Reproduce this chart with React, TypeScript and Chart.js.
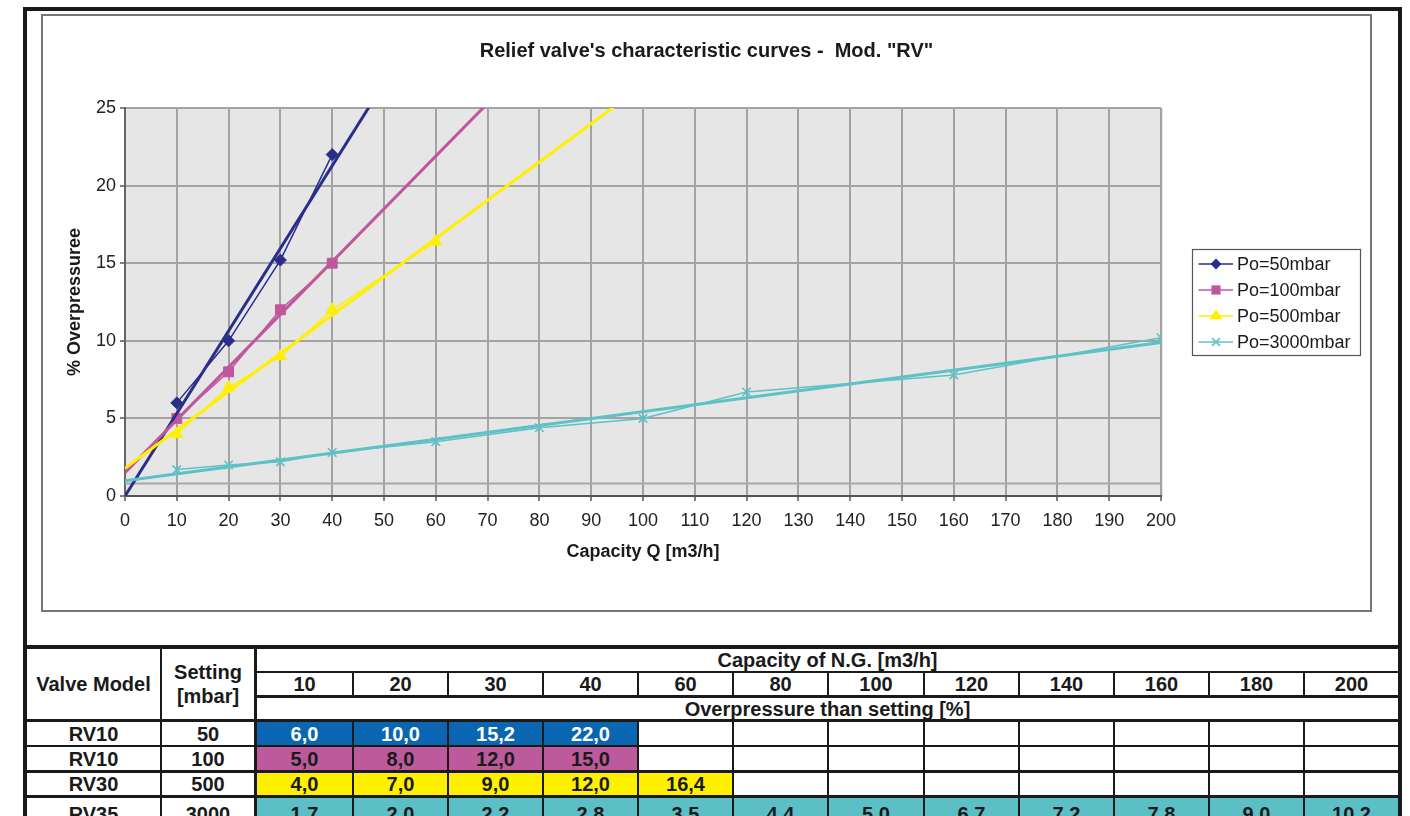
import React, { useEffect, useRef } from 'react';
import { Chart, registerables } from 'chart.js';

Chart.register(...registerables);

const FONT = "'Liberation Sans', Arial, Helvetica, sans-serif";

// ---- chart data ----
const chartTitle = 'Relief valve\'s characteristic curves -  Mod. "RV"';
const xTitle = 'Capacity Q [m3/h]';
const yTitle = '% Overpressuree';
const xMin = 0;
const xMax = 200;
const xStep = 10;
const yMin = 0;
const yMax = 25;
const yStep = 5;

const seriesLabels = ['Po=50mbar', 'Po=100mbar', 'Po=500mbar', 'Po=3000mbar'];
const seriesColors = ['#2b2e88', '#c0569d', '#fff000', '#5cc2c8'];
const seriesMarkers = ['rectRot', 'rect', 'triangle', 'crossRot'];
const seriesRadius = [6, 7, 7, 6];

const q50 = [10, 20, 30, 40];
const op50 = [6.0, 10.0, 15.2, 22.0];
const q100 = [10, 20, 30, 40];
const op100 = [5.0, 8.0, 12.0, 15.0];
const q500 = [10, 20, 30, 40, 60];
const op500 = [4.0, 7.0, 9.0, 12.0, 16.4];
const q3000 = [10, 20, 30, 40, 60, 80, 100, 120, 160, 200];
const op3000 = [1.7, 2.0, 2.2, 2.8, 3.5, 4.4, 5.0, 6.7, 7.8, 10.2];

const refLineX = [0, 200];
const refLineY = [0.8, 0.8];

// ---- table data ----
const tableCapacities = [10, 20, 30, 40, 60, 80, 100, 120, 140, 160, 180, 200];
const tableModels = ['RV10', 'RV10', 'RV30', 'RV35'];
const tableSettings = [50, 100, 500, 3000];
const tableRow50 = [6.0, 10.0, 15.2, 22.0];
const tableRow100 = [5.0, 8.0, 12.0, 15.0];
const tableRow500 = [4.0, 7.0, 9.0, 12.0, 16.4];
const tableRow3000 = [1.7, 2.0, 2.2, 2.8, 3.5, 4.4, 5.0, 6.7, 7.2, 7.8, 9.0, 10.2];
const tableDecimalSep = [',', ',', ',', '.'];
const tableFill = ['#0a66b1', '#bd5a9b', '#fff000', '#5cbfc5'];
const tableTextColor = ['#ffffff', '#1a1a1a', '#1a1a1a', '#1a1a1a'];

function fitLine(xs: number[], ys: number[]) {
  const n = xs.length;
  const mx = xs.reduce((a, b) => a + b, 0) / n;
  const my = ys.reduce((a, b) => a + b, 0) / n;
  let sxy = 0;
  let sxx = 0;
  for (let i = 0; i < n; i++) {
    sxy += (xs[i] - mx) * (ys[i] - my);
    sxx += (xs[i] - mx) * (xs[i] - mx);
  }
  const m = sxy / sxx;
  const b = my - m * mx;
  return [
    { x: xMin, y: b + m * xMin },
    { x: xMax, y: b + m * xMax },
  ];
}

function pts(xs: number[], ys: number[]) {
  return xs.map((x, i) => ({ x, y: ys[i] }));
}

function drawMarker(ctx: CanvasRenderingContext2D, style: string, x: number, y: number, r: number, color: string) {
  ctx.save();
  ctx.fillStyle = color;
  ctx.strokeStyle = color;
  ctx.lineWidth = 1.5;
  ctx.beginPath();
  if (style === 'rectRot') {
    ctx.moveTo(x, y - r);
    ctx.lineTo(x + r, y);
    ctx.lineTo(x, y + r);
    ctx.lineTo(x - r, y);
    ctx.closePath();
    ctx.fill();
  } else if (style === 'rect') {
    const s = r * Math.SQRT1_2;
    ctx.rect(x - s, y - s, 2 * s, 2 * s);
    ctx.fill();
  } else if (style === 'triangle') {
    const h = r * 1.5;
    ctx.moveTo(x, y - r);
    ctx.lineTo(x + r * 0.866 * 1.15, y + h - r);
    ctx.lineTo(x - r * 0.866 * 1.15, y + h - r);
    ctx.closePath();
    ctx.fill();
  } else {
    const d = r * Math.SQRT1_2;
    ctx.moveTo(x - d, y - d);
    ctx.lineTo(x + d, y + d);
    ctx.moveTo(x + d, y - d);
    ctx.lineTo(x - d, y + d);
    ctx.stroke();
  }
  ctx.restore();
}

const plotBgPlugin = {
  id: 'plotBg',
  beforeDraw(chart: any) {
    const { ctx, chartArea } = chart;
    ctx.save();
    ctx.fillStyle = '#e6e6e6';
    ctx.fillRect(chartArea.left, chartArea.top, chartArea.right - chartArea.left + 2, chartArea.bottom - chartArea.top);
    ctx.restore();
  },
};

const boxLegendPlugin = {
  id: 'boxLegend',
  afterDraw(chart: any) {
    const ctx: CanvasRenderingContext2D = chart.ctx;
    const left = 1149.5;
    const top = 233.5;
    const width = 168;
    const height = 106;
    const rowY = [248, 274, 300, 326];
    ctx.save();
    ctx.fillStyle = '#ffffff';
    ctx.fillRect(left, top, width, height);
    ctx.strokeStyle = '#555555';
    ctx.lineWidth = 1.2;
    ctx.strokeRect(left, top, width, height);
    ctx.font = `18px ${FONT}`;
    ctx.textBaseline = 'middle';
    ctx.textAlign = 'left';
    seriesLabels.forEach((label, i) => {
      const y = rowY[i];
      ctx.strokeStyle = seriesColors[i];
      ctx.lineWidth = 1.5;
      ctx.beginPath();
      ctx.moveTo(1155.5, y);
      ctx.lineTo(1190, y);
      ctx.stroke();
      drawMarker(ctx, seriesMarkers[i], 1173, y, seriesRadius[i] - 0.5, seriesColors[i]);
      ctx.fillStyle = '#1a1a1a';
      ctx.fillText(label, 1194, y + 1);
    });
    ctx.restore();
  },
};

function ChartCanvas() {
  const ref = useRef<HTMLCanvasElement | null>(null);
  useEffect(() => {
    if (!ref.current) return;
    Chart.defaults.font.family = FONT;
    const seriesX = [q50, q100, q500, q3000];
    const seriesY = [op50, op100, op500, op3000];
    const datasets: any[] = [];
    datasets.push({
      label: 'ref',
      data: pts(refLineX, refLineY),
      borderColor: '#a8a8a8',
      borderWidth: 2,
      pointRadius: 0,
      order: 100,
    });
    seriesLabels.forEach((label, i) => {
      datasets.push({
        label,
        data: pts(seriesX[i], seriesY[i]),
        borderColor: seriesColors[i],
        backgroundColor: seriesColors[i],
        borderWidth: 1.5,
        pointStyle: seriesMarkers[i],
        pointRadius: seriesRadius[i],
        pointBorderWidth: seriesMarkers[i] === 'crossRot' ? 1.6 : 1,
        pointBackgroundColor: seriesColors[i],
        pointBorderColor: seriesColors[i],
        order: 20 - i,
      });
      datasets.push({
        label: label + ' trend',
        data: fitLine(seriesX[i], seriesY[i]),
        borderColor: seriesColors[i],
        borderWidth: 3,
        pointRadius: 0,
        order: 10 - i,
      });
    });

    const chart = new Chart(ref.current, {
      type: 'line',
      data: { datasets },
      plugins: [plotBgPlugin, boxLegendPlugin],
      options: {
        animation: false,
        responsive: false,
        devicePixelRatio: 1,
        events: [],
        layout: { padding: { left: 0, right: 0, top: 0, bottom: 0 } },
        plugins: {
          legend: { display: false },
          tooltip: { enabled: false },
          title: {
            display: true,
            text: chartTitle,
            color: '#1a1a1a',
            font: { family: FONT, size: 20, weight: 'bold' },
            padding: { top: 23, bottom: 45 },
          },
        },
        scales: {
          x: {
            type: 'linear',
            min: xMin,
            max: xMax,
            ticks: {
              stepSize: xStep,
              autoSkip: false,
              maxRotation: 0,
              color: '#222222',
              padding: 9,
              font: { family: FONT, size: 18 },
            },
            grid: { color: '#a3a3a3', lineWidth: 2, tickLength: 5, tickColor: '#555555', tickWidth: 1.5 },
            border: { color: '#555555', width: 2 },
            title: {
              display: true,
              text: xTitle,
              color: '#1a1a1a',
              font: { family: FONT, size: 18, weight: 'bold' },
              padding: { top: 0, bottom: 47.2 },
            },
            afterFit: (s: any) => {
              s.height = 114;
            },
          },
          y: {
            type: 'linear',
            min: yMin,
            max: yMax,
            ticks: {
              stepSize: yStep,
              color: '#222222',
              padding: 4,
              font: { family: FONT, size: 18 },
            },
            grid: { color: '#a3a3a3', lineWidth: 2, tickLength: 5, tickColor: '#555555', tickWidth: 1.5 },
            border: { color: '#666666', width: 2 },
            title: {
              display: true,
              text: yTitle,
              color: '#1a1a1a',
              font: { family: FONT, size: 18, weight: 'bold' },
              padding: { top: 21.2, bottom: 0 },
            },
            afterFit: (s: any) => {
              s.width = 82;
            },
          },
          legendSpace: {
            type: 'linear',
            position: 'right',
            min: yMin,
            max: yMax,
            display: true,
            grid: { display: false, drawTicks: false },
            border: { display: false },
            ticks: { display: false },
            afterFit: (s: any) => {
              s.width = 209;
            },
          },
        },
      } as any,
    });
    return () => chart.destroy();
  }, []);
  return (
    <canvas
      ref={ref}
      width={1327}
      height={594}
      style={{ position: 'absolute', left: 43, top: 16, width: 1327, height: 594 }}
    />
  );
}

function Table() {
  const colLine = (k: number) => Math.round(257 + 95.08 * k);
  const cells: React.ReactNode[] = [];
  const base: React.CSSProperties = {
    position: 'absolute',
    display: 'flex',
    alignItems: 'center',
    justifyContent: 'center',
    textAlign: 'center',
    background: '#ffffff',
    color: '#1a1a1a',
    fontFamily: FONT,
    fontWeight: 'bold',
    fontSize: 20,
    lineHeight: '24px',
    overflow: 'hidden',
    whiteSpace: 'nowrap',
  };
  const box = (key: string, l: number, t: number, r: number, b: number, content: React.ReactNode, extra: React.CSSProperties = {}) => {
    cells.push(
      <div key={key} style={{ ...base, left: l, top: t, width: r - l, height: b - t, ...extra }}>
        {content}
      </div>
    );
  };
  const rowsY: [number, number][] = [
    [722, 745],
    [747, 770],
    [773, 795],
    [798, 830],
  ];
  box('vm', 27, 649, 160, 719, 'Valve Model');
  box('st', 162, 649, 254, 719, <span>Setting<br />[mbar]</span>);
  box('cap', 257, 649, 1398, 671, 'Capacity of N.G. [m3/h]');
  tableCapacities.forEach((c, k) => {
    box('c' + k, colLine(k) + (k === 0 ? 0 : 2), 673, colLine(k + 1), 695, String(c));
  });
  box('ov', 257, 698, 1398, 719, 'Overpressure than setting [%]');
  const values = [tableRow50, tableRow100, tableRow500, tableRow3000];
  tableModels.forEach((m, r) => {
    const [t, b] = rowsY[r];
    box('m' + r, 27, t, 160, b, m);
    box('s' + r, 162, t, 254, b, String(tableSettings[r]));
    tableCapacities.forEach((_, k) => {
      const v = values[r][k];
      const has = v !== undefined;
      box(
        'v' + r + '-' + k,
        colLine(k) + (k === 0 ? 0 : 2),
        t,
        colLine(k + 1),
        b,
        has ? v.toFixed(1).replace('.', tableDecimalSep[r]) : '',
        has ? { background: tableFill[r], color: tableTextColor[r] } : {}
      );
    });
  });
  return (
    <>
      <div style={{ position: 'absolute', left: 27, top: 645, width: 1371, height: 200, background: '#1a1a1a' }} />
      {cells}
    </>
  );
}

export default function App() {
  return (
    <div
      style={{
        position: 'absolute',
        left: 0,
        top: 0,
        width: 1410,
        height: 816,
        overflow: 'hidden',
        background: '#ffffff',
      }}
    >
      <div
        style={{
          position: 'absolute',
          left: 23,
          top: 7,
          width: 1379,
          height: 900,
          border: '4px solid #1a1a1a',
          boxSizing: 'border-box',
        }}
      />
      <div
        style={{
          position: 'absolute',
          left: 41,
          top: 14,
          width: 1331,
          height: 598,
          border: '2px solid #777777',
          boxSizing: 'border-box',
        }}
      />
      <ChartCanvas />
      <Table />
    </div>
  );
}
